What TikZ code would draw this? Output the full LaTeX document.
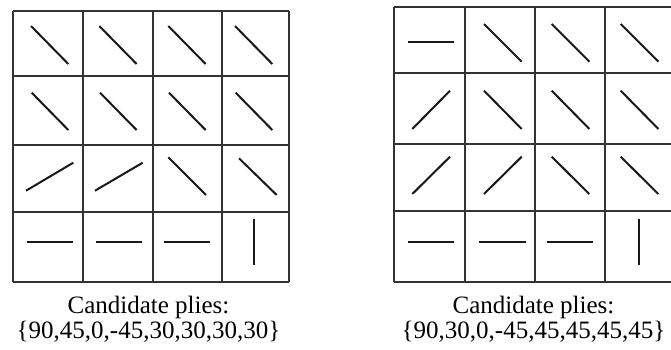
\documentclass[tikz,border=0pt]{standalone}
\usepackage{fontspec}
\setmainfont{Liberation Serif}
\begin{document}
\begin{tikzpicture}[x=1pt,y=-1pt,
  gridline/.style={draw=black!80,line width=2pt},
  ply/.style={draw=black!90,line width=2pt},
  caption/.style={font=\fontsize{25}{25}\selectfont,inner sep=0pt,anchor=base}]
\useasboundingbox (0,0) rectangle (671,349);
\clip (0,0) rectangle (671,349);

% ---- left laminate grid ----
\foreach \x in {13,83.3,153.3,221.7,289.3}
  \draw[gridline] (\x,11) -- (\x,281.7);
\foreach \y in {11,76,145,211.7,281.7}
  \draw[gridline] (13,\y) -- (289.3,\y);

% rows 1 and 2: -45 plies
\foreach \dx in {0,68.3,137.3,204} {
  \draw[ply] (31+\dx,26) -- (68.3+\dx,64);
  \draw[ply] (31.7+\dx,92.7) -- (68.3+\dx,130);
}
% row 3: two 30 plies, two -45 plies
\draw[ply] (26,190.7) -- (73.3,162.7);
\draw[ply] (95,190.7) -- (142.7,162.7);
\draw[ply] (168.3,157.3) -- (206,195);
\draw[ply] (239,158.3) -- (276.7,195);
% row 4: three 0 plies, one 90 ply
\draw[ply] (26.7,242.3) -- (72.7,242.3);
\draw[ply] (95.7,242.3) -- (141.7,242.3);
\draw[ply] (164.3,242.3) -- (210,242.3);
\draw[ply] (254,219.3) -- (254,265);

% ---- right laminate grid ----
\foreach \x in {394,465,535,605,675}
  \draw[gridline] (\x,7.3) -- (\x,281.7);
\foreach \y in {7.3,72.7,144,210.7,281.7}
  \draw[gridline] (394,\y) -- (675,\y);

% row 1: one 0 ply, three -45 plies
\draw[ply] (408.3,42.3) -- (454,42.3);
\foreach \dx in {0,67.7,136.7}
  \draw[ply] (484+\dx,24) -- (521.7+\dx,61.7);
% row 2: one 45 ply, three -45 plies
\draw[ply] (412.3,129) -- (450,90.7);
\foreach \dx in {0,67.7,136.7}
  \draw[ply] (484+\dx,90.7) -- (521.7+\dx,129);
% row 3: two 45 plies, two -45 plies
\draw[ply] (412.3,194) -- (450,156.7);
\draw[ply] (484,194) -- (521.7,156.7);
\draw[ply] (551.7,156.7) -- (589.3,194);
\draw[ply] (620.7,156.7) -- (658.3,194);
% row 4: three 0 plies, one 90 ply
\draw[ply] (408.3,241.7) -- (454,241.7);
\draw[ply] (479.3,241.7) -- (525.7,241.7);
\draw[ply] (546.7,241.7) -- (593.3,241.7);
\draw[ply] (639,219.3) -- (639,265);

% ---- captions ----
\node[caption] (capLa) at (148.5,313) {Candidate plies:};
\node[caption] (capLb) at (148.5,338) {\{90,45,0,-45,30,30,30,30\}};
\node[caption] (capRa) at (533.5,313) {Candidate plies:};
\node[caption] (capRb) at (533.5,338) {\{90,30,0,-45,45,45,45,45\}};
\end{tikzpicture}
\end{document}
